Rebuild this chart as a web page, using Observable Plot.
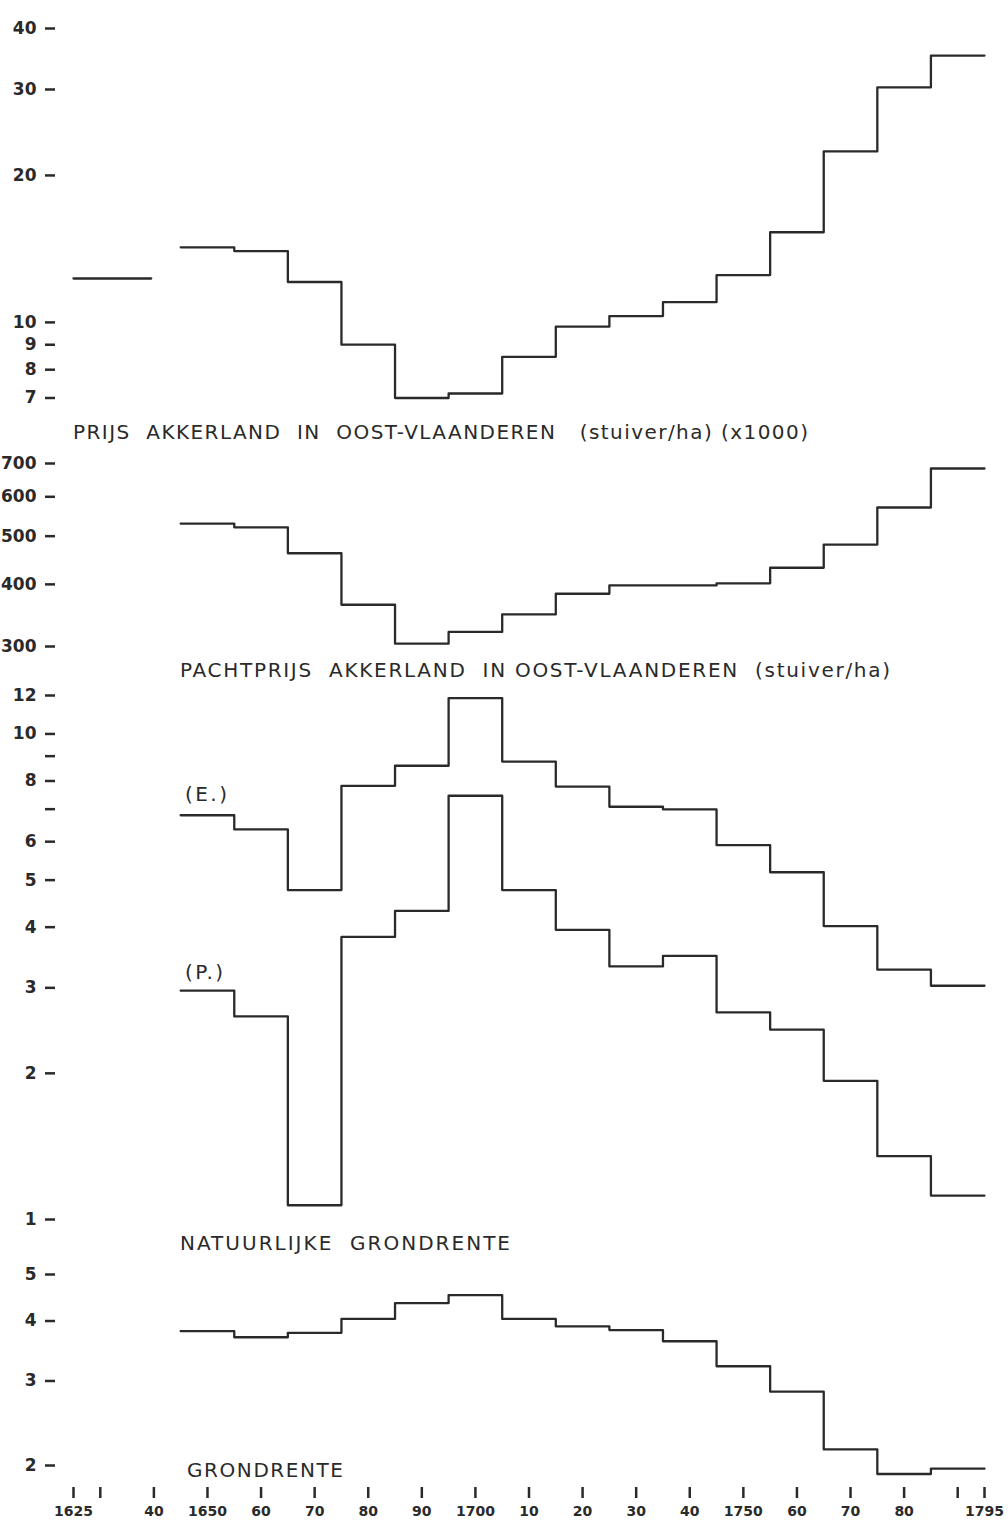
<!DOCTYPE html>
<html>
<head>
<meta charset="utf-8">
<script src="https://cdn.jsdelivr.net/npm/d3@7"></script>
<script src="https://cdn.jsdelivr.net/npm/@observablehq/plot@0.6"></script>
<style>
  html, body { margin: 0; padding: 0; background: #fff; }
  #page { position: relative; width: 1008px; height: 1535px; overflow: hidden; background: #fff; }
  #page > svg { position: absolute; left: 0; }
  .lbl { font-family: "DejaVu Sans", sans-serif; font-size: 20px; fill: #2a2a2a; white-space: pre; }
</style>
</head>
<body>
<div id="page"></div>
<script>
// ---------- DATA ----------
// ten-year periods (1645-1655 ... 1785-1795)
const periodStart = [1645,1655,1665,1675,1685,1695,1705,1715,1725,1735,1745,1755,1765,1775,1785];
const periodEnd = 1795;

// Prijs akkerland in Oost-Vlaanderen (stuiver/ha)(x1000)
const prijsEarlyPeriod = [1625, 1639.5];
const prijsEarlyValue = 12.3;
const prijs = [14.25,14.0,12.1,9.0,7.0,7.15,8.5,9.8,10.3,11.0,12.5,15.3,22.4,30.3,35.2];

// Pachtprijs akkerland in Oost-Vlaanderen (stuiver/ha)
const pacht = [530,521,462,364,304,321,348,383,398,398,402,432,481,571,684];

// Natuurlijke grondrente (E.) and (P.)
const natE = [6.8,6.36,4.77,7.82,8.6,11.85,8.77,7.79,7.08,6.99,5.9,5.19,4.02,3.27,3.03];
const natP = [2.96,2.62,1.07,3.82,4.32,7.46,4.77,3.95,3.32,3.49,2.67,2.46,1.93,1.35,1.12];

// Grondrente
const grond = [3.81,3.70,3.78,4.04,4.36,4.53,4.04,3.90,3.83,3.63,3.22,2.85,2.16,1.92,1.97];

// y tick values per panel
const yTicks1 = [7,8,9,10,20,30,40];
const yTicks2 = [300,400,500,600,700];
const yTicks3 = [1,2,3,4,5,6,7,8,9,10,12];
const yTicks3Unlabeled = [7,9];
const yTicks4 = [2,3,4,5];

// x ticks and labels
const xTicks = [1625,1630,1640,1650,1660,1670,1680,1690,1700,1710,1720,1730,1740,1750,1760,1770,1780,1790,1795];
const xTickLabels = ["1625","","40","1650","60","70","80","90","1700","10","20","30","40","1750","60","70","80","","1795"];

// texts
const panelTexts = [
  "PRIJS  AKKERLAND  IN  OOST-VLAANDEREN   (stuiver/ha) (x1000)",
  "PACHTPRIJS  AKKERLAND  IN OOST-VLAANDEREN  (stuiver/ha)",
  "(E.)",
  "(P.)",
  "NATUURLIJKE  GRONDRENTE",
  "GRONDRENTE"
];

// ---------- BUILD ----------
function steps(values) {
  const rows = periodStart.map((s, i) => ({year: s, v: values[i]}));
  rows.push({year: periodEnd, v: values[values.length - 1]});
  return rows;
}

const INK = "#2a2a2a";
const X = {domain: [1625, 1795], range: [73, 984]};
const xLabelMap = new Map(xTicks.map((t, i) => [t, xTickLabels[i]]));

function panel({top, height, yDomain, yRangeAbs, ticks, tickFormat, series, xAxis, marginBottom = 0}) {
  const marks = [
    Plot.axisY({ticks, tickFormat, tickSize: 10, tickPadding: 9, dx: -18,
      fontSize: 17, fontWeight: "bold", strokeWidth: 2.5, stroke: INK, fill: INK, label: null}),
    ...series.map(s => Plot.line(s, {x: "year", y: "v", curve: "step-after", stroke: INK, strokeWidth: 2.3}))
  ];
  if (xAxis) {
    marks.push(Plot.axisX({ticks: xTicks, tickFormat: d => xLabelMap.get(d), tickSize: 11, tickPadding: 8,
      fontSize: 14, fontWeight: "bold", strokeWidth: 2.5, stroke: INK, fill: INK, label: null}));
  }
  const svg = Plot.plot({
    width: 1008, height,
    marginLeft: 73, marginRight: 24, marginTop: 0, marginBottom,
    x: xAxis ? X : {...X, axis: null},
    y: {type: "log", domain: yDomain, range: [yRangeAbs[0] - top, yRangeAbs[1] - top]},
    style: {fontFamily: "DejaVu Sans, sans-serif", background: "transparent", color: INK, overflow: "visible"},
    marks
  });
  svg.style.top = top + "px";
  return svg;
}

const page = document.getElementById("page");
const fmt = d => String(d);

page.appendChild(panel({top: 0, height: 420, yDomain: [7, 40], yRangeAbs: [397.5, 28], ticks: yTicks1, tickFormat: fmt,
  series: [[{year: prijsEarlyPeriod[0], v: prijsEarlyValue}, {year: prijsEarlyPeriod[1], v: prijsEarlyValue}], steps(prijs)]}));

page.appendChild(panel({top: 440, height: 220, yDomain: [300, 700], yRangeAbs: [646, 463], ticks: yTicks2, tickFormat: fmt,
  series: [steps(pacht)]}));

page.appendChild(panel({top: 680, height: 550, yDomain: [1, 12], yRangeAbs: [1219, 695], ticks: yTicks3,
  tickFormat: d => yTicks3Unlabeled.includes(d) ? "" : String(d),
  series: [steps(natE), steps(natP)]}));

page.appendChild(panel({top: 1255, height: 280, yDomain: [2, 5], yRangeAbs: [1465, 1274], ticks: yTicks4, tickFormat: fmt,
  series: [steps(grond)], xAxis: true, marginBottom: 280 - (1487 - 1255)}));

// panel labels overlay
const labelLayout = [
  {x: 73, y: 439, w: 735},
  {x: 180, y: 677, w: 710},
  {x: 185, y: 801, w: 42},
  {x: 185, y: 979, w: 38},
  {x: 180, y: 1250, w: 330},
  {x: 187, y: 1477, w: 156}
];
const overlay = d3.create("svg").attr("width", 1008).attr("height", 1535).style("top", "0px").style("pointer-events", "none");
overlay.selectAll("text").data(panelTexts).join("text")
  .attr("class", "lbl")
  .attr("x", (d, i) => labelLayout[i].x)
  .attr("y", (d, i) => labelLayout[i].y)
  .attr("textLength", (d, i) => labelLayout[i].w)
  .attr("lengthAdjust", "spacing")
  .text(d => d);
page.appendChild(overlay.node());
</script>
</body>
</html>
